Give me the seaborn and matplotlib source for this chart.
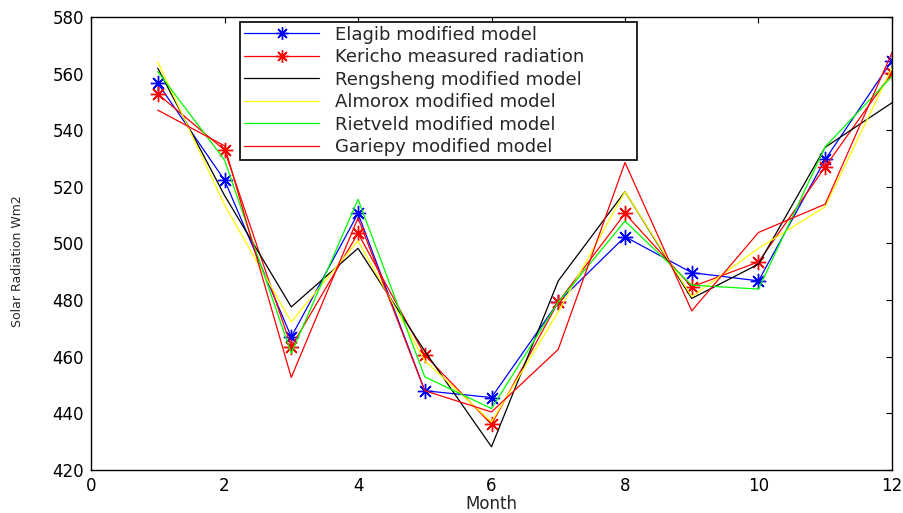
import numpy as np
import pandas as pd
import seaborn as sns
import matplotlib.pyplot as plt

# data
months = list(range(1, 13))
elagib = [556.6, 522.4, 467.0, 510.6, 448.0, 445.6, 479.3, 502.4, 489.7, 486.8, 529.7, 564.6]
kericho = [552.8, 533.0, 463.5, 503.6, 460.6, 436.1, 479.3, 510.6, 484.7, 493.5, 527.1, 560.3]
rengsheng = [561.9, 517.0, 477.6, 498.3, 462.0, 428.2, 486.8, 518.3, 480.6, 492.7, 534.0, 549.7]
almorox = [564.1, 513.6, 472.3, 501.0, 458.6, 437.0, 475.9, 518.3, 481.2, 498.3, 513.0, 562.0]
rietveld = [560.7, 529.5, 461.2, 515.6, 452.9, 441.7, 479.3, 507.9, 485.3, 483.9, 534.2, 559.0]
gariepy = [547.1, 534.5, 452.7, 509.0, 448.0, 440.5, 462.6, 528.6, 476.2, 503.9, 513.9, 567.4]

series_names = ["Elagib modified model", "Kericho measured radiation", "Rengsheng modified model",
                "Almorox modified model", "Rietveld modified model", "Gariepy modified model"]
series_values = [elagib, kericho, rengsheng, almorox, rietveld, gariepy]
colors = ["#0000ff", "#ff0000", "#000000", "#ffff00", "#00ff00", "#ff0000"]
has_marker = [True, True, False, False, False, False]

df = pd.DataFrame({"Month": months * len(series_names),
                   "Value": sum(series_values, []),
                   "Series": np.repeat(series_names, len(months))})

sns.set_style("white")
plt.rcParams['font.family'] = ['DejaVu Sans']

asterisk = (8, 2, 0)  # matlab-like '*'

fig = plt.figure(figsize=(9.04, 5.13), dpi=100)
ax = fig.add_axes([0.1007, 0.0838, 0.886, 0.8831])

for name, col, mk in zip(series_names, colors, has_marker):
    sub = df[df["Series"] == name]
    if mk:
        sns.lineplot(data=sub, x="Month", y="Value", ax=ax, color=col, linewidth=0.9,
                     marker=asterisk, markersize=11, markeredgewidth=1.0,
                     markeredgecolor=col, label=name)
    else:
        sns.lineplot(data=sub, x="Month", y="Value", ax=ax, color=col, linewidth=0.9,
                     label=name)

ax.set_xlim(0, 12)
ax.set_ylim(420, 580)
ax.set_xticks(range(0, 13, 2))
ax.set_yticks(range(420, 581, 20))
ax.tick_params(direction="in", length=4, width=0.8, top=True, right=True,
               labelsize=12, pad=5, colors="black")
for s in ax.spines.values():
    s.set_visible(True)
    s.set_color("black")
    s.set_linewidth(1.0)

ax.set_xlabel("Month", fontsize=12, labelpad=0)
ax.set_ylabel("Solar Radiation Wm2", fontsize=9)
ax.yaxis.set_label_coords(-0.084, 0.46)

# legend box spans px 240..637 horizontally
leg = ax.legend(loc="upper left", bbox_to_anchor=(0.186, 0.5, 0.4956, 0.489),
                mode="expand", fontsize=13,
                frameon=True, fancybox=False, edgecolor="black", framealpha=1,
                handlelength=4.2, handletextpad=0.85, labelspacing=0.25,
                borderpad=0.2, borderaxespad=0, numpoints=1)
leg._legend_box.sep = 5
leg.get_frame().set_linewidth(1.2)
for h in leg.get_lines():
    h.set_markersize(9)

fig.savefig("out.png", dpi=100)
